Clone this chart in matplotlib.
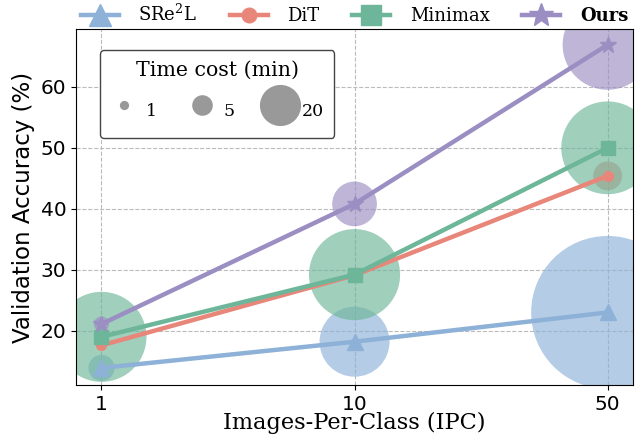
import numpy as np
import matplotlib
matplotlib.use("Agg")
import matplotlib.pyplot as plt
from matplotlib.lines import Line2D
from matplotlib.patches import Circle
from matplotlib.transforms import Affine2D, ScaledTranslation

# values
ipc_labels = ["1", "10", "50"]
methods = ["SRe$^2$L", "DiT", "Minimax", "Ours"]
sre2l_acc = [13.9, 18.2, 23.0]
dit_acc = [17.6, 29.1, 45.4]
minimax_acc = [19.0, 29.2, 50.0]
ours_acc = [21.1, 40.8, 66.9]

# time cost in minutes (bubble area)
sre2l_time = [6.8, 49, 234]
dit_time = [0.5, 2.3, 8.4]
minimax_time = [81, 83, 86]
ours_time = [2.3, 20, 81]

legend_times = [1, 5, 20]

colors = ["#8db1d7", "#e9867a", "#6db699", "#9b8ec2"]
markers = ["^", "o", "s", "*"]
msizes = [11, 7, 10, 12]

accs = [sre2l_acc, dit_acc, minimax_acc, ours_acc]
times = [sre2l_time, dit_time, minimax_time, ours_time]

PX_PER_SQRT_MIN = 10.0  # bubble diameter in pixels per sqrt(minute)

plt.rcParams["mathtext.fontset"] = "dejavuserif"

fig, ax = plt.subplots(figsize=(6.4, 4.38), dpi=100)
fig.subplots_adjust(left=0.119, right=0.989, top=0.934, bottom=0.121)

x = np.arange(len(ipc_labels))

ax.set_xlim(-0.1, 2.1)
ax.set_ylim(11.1, 69.5)

# bubbles: circles sized in points, placed at data positions, clipped to axes
pt = Affine2D().scale(fig.dpi / 72.0)
for acc, t, c in zip(accs, times, colors):
    for xi, yi, ti in zip(x, acc, t):
        r_pt = 0.5 * 0.72 * PX_PER_SQRT_MIN * np.sqrt(ti)
        circ = Circle((0, 0), r_pt, facecolor=c, edgecolor="none", alpha=0.65,
                      zorder=2,
                      transform=pt + ScaledTranslation(xi, yi, ax.transData))
        ax.add_artist(circ)
        circ.set_clip_path(ax.patch)

handles = []
for acc, c, m, ms, name in zip(accs, colors, markers, msizes, methods):
    ln, = ax.plot(x, acc, color=c, lw=3.2, marker=m, markersize=ms,
                  zorder=3, label=name)
    handles.append(ln)

ax.set_xlim(-0.1, 2.1)
ax.set_ylim(11.1, 69.5)
ax.set_xticks(x)
ax.set_xticklabels(ipc_labels)
ax.set_yticks([20, 30, 40, 50, 60])
ax.tick_params(labelsize=14.5)
ax.grid(True, linestyle="--", color="#bbbbbb", lw=0.8)
ax.set_axisbelow(True)

ax.set_xlabel("Images-Per-Class (IPC)", family="DejaVu Serif", fontsize=16.2,
              labelpad=-1)
ax.set_ylabel("Validation Accuracy (%)", fontsize=16.5, labelpad=4)

leg1 = ax.legend(handles=handles, loc="lower center", bbox_to_anchor=(0.5, 0.985),
                 ncol=4, frameon=False, handlelength=2.1, handletextpad=1.1,
                 columnspacing=1.8, markerscale=1.5, borderaxespad=0.1,
                 prop={"family": "DejaVu Serif", "size": 13})
for txt in leg1.get_texts():
    if txt.get_text() == "Ours":
        txt.set_fontweight("bold")
ax.add_artist(leg1)

size_handles = [
    Line2D([], [], linestyle="none", marker="o", color="#999999",
           markersize=0.72 * 9.2 * np.sqrt(t), markeredgewidth=0)
    for t in legend_times
]
leg2 = ax.legend(size_handles, [str(t) for t in legend_times],
                 title="Time cost (min)", loc="upper left",
                 bbox_to_anchor=(0.043, 0.94), borderaxespad=0, ncol=3,
                 frameon=True, fancybox=True, edgecolor="#444444",
                 framealpha=1, handlelength=1.6, handleheight=2.6,
                 handletextpad=0.45, columnspacing=1.8, borderpad=0.6,
                 labelspacing=0.8,
                 prop={"family": "DejaVu Serif", "size": 12.5},
                 title_fontproperties={"family": "DejaVu Serif", "size": 14.8})

fig.savefig("out.png", dpi=100)
